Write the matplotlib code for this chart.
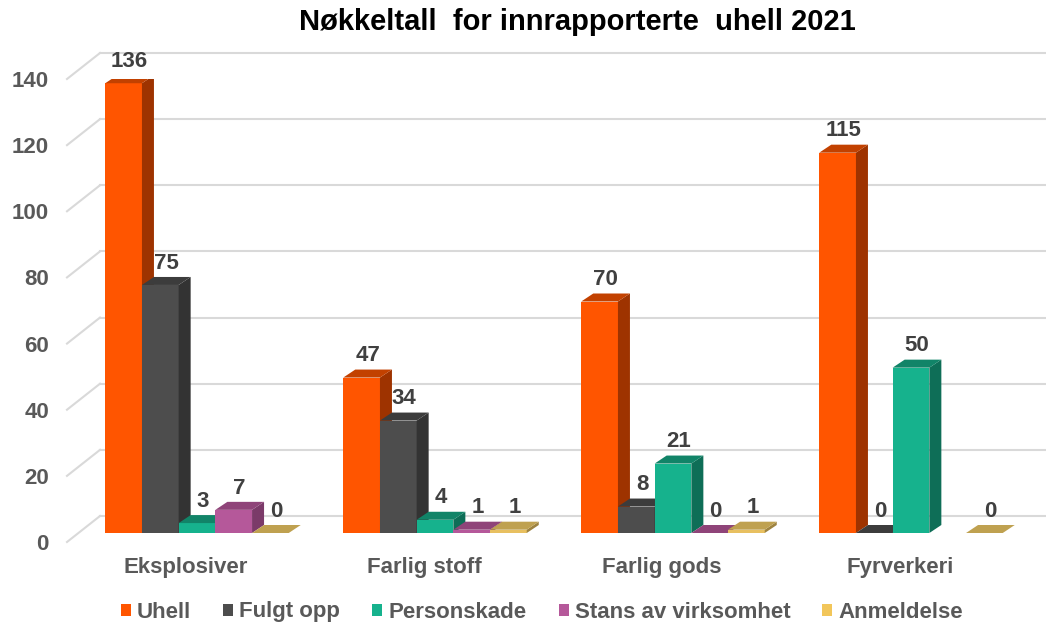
import numpy as np
import matplotlib
matplotlib.use("Agg")
import matplotlib.pyplot as plt
from matplotlib.patches import Polygon, Patch

plt.rcParams['font.family'] = ['Liberation Sans', 'DejaVu Sans']

# ===== DATA =====
categories = ["Eksplosiver", "Farlig stoff", "Farlig gods", "Fyrverkeri"]
series = ["Uhell", "Fulgt opp", "Personskade", "Stans av virksomhet", "Anmeldelse"]
uhell = [136, 47, 70, 115]
fulgt_opp = [75, 34, 8, 0]
personskade = [3, 4, 21, 50]
stans = [7, 1, 0, np.nan]
anmeldelse = [0, 1, 1, 0]
values = [uhell, fulgt_opp, personskade, stans, anmeldelse]
yticks = [0, 20, 40, 60, 80, 100, 120, 140]

# front / side / top colours per series
front_c = ['#FF5500', '#4D4D4D', '#16B28D', '#B5589A', '#E8C060']
side_c = ['#9E3300', '#333333', '#0E6E57', '#7B3A69', '#9E8340']
top_c = ['#C24100', '#3C3C3C', '#118468', '#8F4479', '#BFA150']
legend_c = ['#FF5500', '#4D4D4D', '#16B28D', '#B5589A', '#F2C65A']
gray = '#595959'

# ===== FIGURE SETUP =====
fig = plt.figure(figsize=(10.46, 6.24), dpi=100)
ax = fig.add_axes([67 / 1046, 82 / 624, 952 / 1046, 463 / 624])
ax.set_xlim(-0.5, 3.5)
ax.set_ylim(0, 140)
for s in ax.spines.values():
    s.set_visible(False)

# pixel -> data unit conversion
p0 = ax.transData.transform((0, 0))
p1 = ax.transData.transform((1, 1))
sx, sy = p1[0] - p0[0], p1[1] - p0[1]
fx, fy = 11 / sx, 9 / sy      # bar front plane offset
ddx, ddy = 12 / sx, 8 / sy    # bar depth
wx, wy = 33 / sx, 26 / sy     # back wall offset

# gridlines on back wall + diagonal on floor side
for t in yticks:
    ax.plot([-0.5, -0.5 + wx], [t, t + wy], color='#D9D9D9', lw=1.5, zorder=0, clip_on=False)
    ax.plot([-0.5 + wx, 3.5 + wx], [t + wy, t + wy], color='#D9D9D9', lw=1.5, zorder=0, clip_on=False)

w = 36.7 / sx
x = np.arange(len(categories))
for k, vals in enumerate(values):
    for i, v in enumerate(vals):
        if np.isnan(v):
            continue
        x0 = x[i] - 2.5 * w + k * w + fx
        x1 = x0 + w
        z = 2 + k * 0.1
        ax.bar(x0, v, width=w, bottom=fy, align='edge', color=front_c[k], zorder=z)
        side = Polygon([(x1, fy), (x1, fy + v), (x1 + ddx, fy + v + ddy), (x1 + ddx, fy + ddy)],
                       closed=True, facecolor=side_c[k], edgecolor='none', zorder=z)
        top = Polygon([(x0, fy + v), (x1, fy + v), (x1 + ddx, fy + v + ddy), (x0 + ddx, fy + v + ddy)],
                      closed=True, facecolor=top_c[k], edgecolor='none', zorder=z)
        ax.add_patch(side)
        ax.add_patch(top)
        ax.text(x0 + w / 2 + ddx / 2, fy + v + ddy + 1.0, f"{int(v)}", ha='center', va='bottom',
                fontsize=16, fontweight='bold', color='#404040', zorder=10)

ax.set_yticks(yticks)
ax.set_yticklabels([str(t) for t in yticks], fontsize=16, fontweight='bold', color=gray)
ax.set_xticks(x)
ax.set_xticklabels(categories, fontsize=16, fontweight='bold', color=gray)
ax.tick_params(axis='y', length=0, pad=13)
ax.tick_params(axis='x', length=0, pad=11)

fig.text(0.552, 1 - 22 / 624, "Nøkkeltall  for innrapporterte  uhell 2021", ha='center', va='center',
         fontsize=21, fontweight='bold', color='black')

handles = [Patch(facecolor=c, edgecolor='none') for c in legend_c]
leg = fig.legend(handles, series, loc='center', bbox_to_anchor=(0.518, 1 - 612 / 624), ncol=5,
                 frameon=False, handlelength=0.45, handleheight=0.45, handletextpad=0.27,
                 columnspacing=1.45, borderpad=0, prop={'weight': 'bold', 'size': 16})
for t in leg.get_texts():
    t.set_color(gray)

plt.savefig("out.png", dpi=100, facecolor='white')
